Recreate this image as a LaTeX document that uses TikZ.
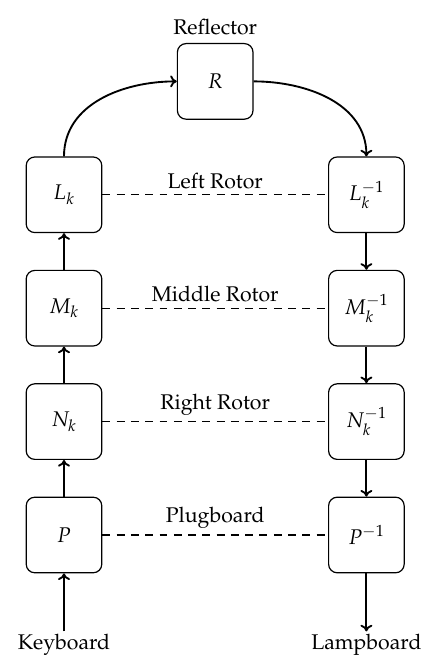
\documentclass[tikz,border=0pt]{standalone}
\usepackage[T1]{fontenc}
\usepackage{mathpazo}
\usetikzlibrary{arrows.meta}

\tikzset{
  every node/.style={font=\fontsize{16}{19}\selectfont},
  stage/.style={draw, line width=0.9pt, rounded corners=6.5pt,
                minimum width=2cm, minimum height=2cm, inner sep=0pt},
  flow/.style={line width=1.4pt, -{To[length=5pt,width=9pt]}},
  link/.style={line width=0.8pt, dash pattern=on 6pt off 4.75pt},
  caption/.style={inner sep=2pt}
}

\begin{document}
\begin{tikzpicture}
  \useasboundingbox (-1.693,-3.254) rectangle (9.815,14.153);

  % forward path (left column)
  \node[stage] (P)  at (0,0) {$P$};
  \node[stage] (N)  at (0,3) {$N_k$};
  \node[stage] (M)  at (0,6) {$M_k$};
  \node[stage] (L)  at (0,9) {$L_k$};

  % reflector
  \node[stage] (R)  at (4,12) {$R$};
  \node[caption, above=4pt] at (R.north) {Reflector};

  % return path (right column)
  \node[stage] (Li) at (8,9) {$L_k^{-1}$};
  \node[stage] (Mi) at (8,6) {$M_k^{-1}$};
  \node[stage] (Ni) at (8,3) {$N_k^{-1}$};
  \node[stage] (Pi) at (8,0) {$P^{-1}$};

  % input and output
  \node[caption, anchor=north] (K)  at (0,-2.55) {Keyboard};
  \node[caption, anchor=north] (LB) at (8,-2.55) {Lampboard};
  \coordinate (Kin)  at (0,-2.55);
  \coordinate (LBin) at (8,-2.55);

  % signal flow
  \draw[flow] (Kin) -- (P.south);
  \draw[flow] (P) -- (N);
  \draw[flow] (N) -- (M);
  \draw[flow] (M) -- (L);
  \draw[flow] (L.north) to[out=90,in=180] (R.west);
  \draw[flow] (R.east) to[out=0,in=90] (Li.north);
  \draw[flow] (Li) -- (Mi);
  \draw[flow] (Mi) -- (Ni);
  \draw[flow] (Ni) -- (Pi);
  \draw[flow] (Pi.south) -- (LBin);

  % component pairs
  \draw[link] (L) -- node[above=1pt] {Left Rotor} (Li);
  \draw[link] (M) -- node[above=1pt] {Middle Rotor} (Mi);
  \draw[link] (N) -- node[above=1pt] {Right Rotor} (Ni);
  \draw[link] (P) -- node[above=1pt] {Plugboard} (Pi);
\end{tikzpicture}
\end{document}
